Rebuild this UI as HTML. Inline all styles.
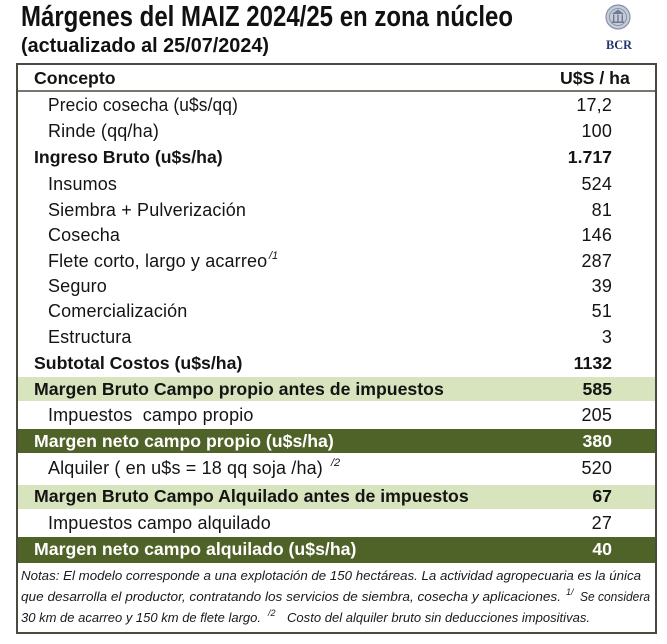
<!DOCTYPE html>
<html>
<head>
<meta charset="utf-8">
<style>
html,body{margin:0;padding:0;background:#fff;}
svg{display:block;}
text{font-family:"Liberation Sans",Arial,sans-serif;}
.r{font-size:18px;letter-spacing:0.15px;fill:#141414;}
.b{font-size:17.7px;font-weight:bold;fill:#141414;}
.w{font-size:17.7px;font-weight:bold;fill:#ffffff;}
.n{font-size:13px;font-style:italic;fill:#1a1a1a;}
</style>
</head>
<body>
<svg width="667" height="644" viewBox="0 0 667 644" xmlns="http://www.w3.org/2000/svg">
<rect width="667" height="644" fill="#ffffff"/>

<!-- Title -->
<text x="21" y="26" font-size="29" font-weight="bold" fill="#111" textLength="492" lengthAdjust="spacingAndGlyphs">Márgenes del MAIZ 2024/25 en zona núcleo</text>
<text x="21" y="52" font-size="20" font-weight="bold" fill="#111" textLength="248" lengthAdjust="spacingAndGlyphs">(actualizado al 25/07/2024)</text>

<!-- Logo -->
<circle cx="618" cy="17" r="12" fill="#c5ccd8" stroke="#8792a8" stroke-width="1.2"/>
<circle cx="618" cy="17" r="8.5" fill="none" stroke="#7d88a0" stroke-width="0.8"/>
<path d="M612 14 L618 9.5 L624 14 Z" fill="#6e7a94"/>
<rect x="613" y="14.5" width="1.4" height="7" fill="#6e7a94"/>
<rect x="617.3" y="14.5" width="1.4" height="7" fill="#6e7a94"/>
<rect x="621.6" y="14.5" width="1.4" height="7" fill="#6e7a94"/>
<rect x="612" y="21.5" width="12" height="1.5" fill="#6e7a94"/>
<text x="606" y="49" font-size="13" font-weight="bold" fill="#22366a" textLength="26" lengthAdjust="spacingAndGlyphs" style="font-family:'Liberation Serif',serif">BCR</text>

<!-- Bands -->
<rect x="18" y="377" width="638" height="24" fill="#d7e4bd"/>
<rect x="18" y="429" width="638" height="24" fill="#4f6228"/>
<rect x="18" y="485" width="638" height="24" fill="#d7e4bd"/>
<rect x="18" y="537" width="638" height="26" fill="#4f6228"/>

<!-- Table border -->
<rect x="17" y="64" width="639" height="569" fill="none" stroke="#4a4a3e" stroke-width="2"/>
<line x1="17" y1="91" x2="656" y2="91" stroke="#4a4a3e" stroke-width="1.6"/>

<!-- Header -->
<text class="b" x="34" y="84">Concepto</text>
<text class="b" x="560" y="84">U$S / ha</text>

<!-- Rows -->
<text class="r" x="48" y="111" textLength="190" lengthAdjust="spacingAndGlyphs">Precio cosecha (u$s/qq)</text>
<text class="r" x="612" y="111" text-anchor="end">17,2</text>

<text class="r" x="48" y="137">Rinde (qq/ha)</text>
<text class="r" x="612" y="137" text-anchor="end">100</text>

<text class="b" x="34" y="163">Ingreso Bruto (u$s/ha)</text>
<text class="b" x="612" y="163" text-anchor="end">1.717</text>

<text class="r" x="48" y="190">Insumos</text>
<text class="r" x="612" y="190" text-anchor="end">524</text>

<text class="r" x="48" y="216">Siembra + Pulverización</text>
<text class="r" x="612" y="216" text-anchor="end">81</text>

<text class="r" x="48" y="241">Cosecha</text>
<text class="r" x="612" y="241" text-anchor="end">146</text>

<text class="r" x="48" y="267">Flete corto, largo y acarreo</text>
<text x="269" y="259" font-size="11" font-style="italic" fill="#141414">/1</text>
<text class="r" x="612" y="267" text-anchor="end">287</text>

<text class="r" x="48" y="292">Seguro</text>
<text class="r" x="612" y="292" text-anchor="end">39</text>

<text class="r" x="48" y="317">Comercialización</text>
<text class="r" x="612" y="317" text-anchor="end">51</text>

<text class="r" x="48" y="343">Estructura</text>
<text class="r" x="612" y="343" text-anchor="end">3</text>

<text class="b" x="34" y="369">Subtotal Costos (u$s/ha)</text>
<text class="b" x="612" y="369" text-anchor="end">1132</text>

<text class="b" x="34" y="395">Margen Bruto Campo propio antes de impuestos</text>
<text class="b" x="612" y="395" text-anchor="end">585</text>

<text class="r" x="48" y="421">Impuestos&#160; campo propio</text>
<text class="r" x="612" y="421" text-anchor="end">205</text>

<text class="w" x="34" y="447">Margen neto campo propio (u$s/ha)</text>
<text class="w" x="612" y="447" text-anchor="end">380</text>

<text class="r" x="48" y="474">Alquiler ( en u$s = 18 qq soja /ha)</text>
<text x="331" y="466" font-size="11" font-style="italic" fill="#141414">/2</text>
<text class="r" x="612" y="474" text-anchor="end">520</text>

<text class="b" x="34" y="502">Margen Bruto Campo Alquilado antes de impuestos</text>
<text class="b" x="612" y="502" text-anchor="end">67</text>

<text class="r" x="48" y="529">Impuestos campo alquilado</text>
<text class="r" x="612" y="529" text-anchor="end">27</text>

<text class="w" x="34" y="555">Margen neto campo alquilado (u$s/ha)</text>
<text class="w" x="612" y="555" text-anchor="end">40</text>

<!-- Notes -->
<text class="n" x="21" y="580" textLength="620" lengthAdjust="spacingAndGlyphs">Notas: El modelo corresponde a una explotación de 150 hectáreas. La actividad agropecuaria es la única</text>
<text class="n" x="21" y="601" textLength="540" lengthAdjust="spacingAndGlyphs">que desarrolla el productor, contratando los servicios de siembra, cosecha y aplicaciones.</text>
<text x="566" y="595" font-size="9" font-style="italic" fill="#1a1a1a">1/</text>
<text class="n" x="580" y="601" textLength="70" lengthAdjust="spacingAndGlyphs">Se considera</text>
<text class="n" x="21" y="622" textLength="240" lengthAdjust="spacingAndGlyphs">30 km de acarreo y 150 km de flete largo.</text>
<text x="268" y="616" font-size="9" font-style="italic" fill="#1a1a1a">/2</text>
<text class="n" x="287" y="622" textLength="303" lengthAdjust="spacingAndGlyphs">Costo del alquiler bruto sin deducciones impositivas.</text>
</svg>
</body>
</html>
